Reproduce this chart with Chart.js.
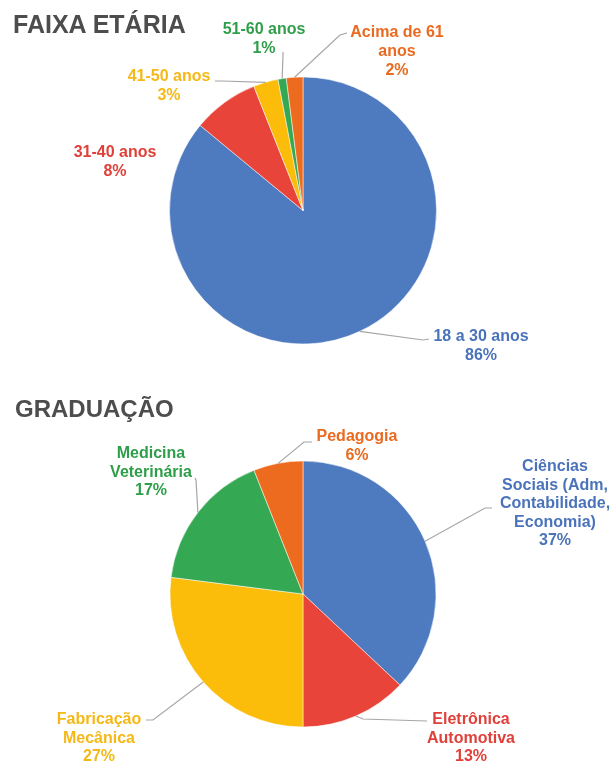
<!DOCTYPE html>
<html>
<head>
<meta charset="utf-8">
<script src="https://cdn.jsdelivr.net/npm/chart.js@4.4.1/dist/chart.umd.min.js"></script>
<style>
    html, body { margin: 0; padding: 0; background: #fff; width: 611px; height: 773px; overflow: hidden; }
    canvas { position: absolute; left: 0; }
    .title { position: absolute; left: 13px; font-family: "Liberation Sans", Arial, sans-serif; font-weight: bold; color: #4d4d4d; z-index: 2; }
</style>
</head>
<body>
<canvas id="idade" width="611" height="385" style="top:0"></canvas>
<canvas id="grad" width="611" height="388" style="top:385px"></canvas>
<div class="title" style="top:12px;font-size:25px;line-height:25px">FAIXA ETÁRIA</div>
<div class="title" style="top:397px;left:15px;font-size:24px;line-height:24px">GRADUAÇÃO</div>

<script>
// Faixa etária
var ageLabels = ['18 a 30 anos', '31-40 anos', '41-50 anos', '51-60 anos', 'Acima de 61 anos'];
var ageValues = [86, 8, 3, 1, 2];

// Graduação
var gradLabels = ['Ciências Sociais (Adm, Contabilidade, Economia)', 'Eletrônica Automotiva', 'Fabricação Mecânica', 'Medicina Veterinária', 'Pedagogia'];
var gradValues = [37, 13, 27, 17, 6];

var sliceColors = ['#4e7ac0', '#e8443a', '#fbbc0a', '#34a853', '#ed6b1f'];
var textColors = ['#4a73ba', '#e0403a', '#f5b816', '#2f9e4a', '#ea6a1f'];

// label boxes (page coords), line = elbow + anchor near the text
var ageLabelPos = [
    { text: ['18 a 30 anos'], x: 481, y: 337, elbow: [423, 340], anchor: [429, 339] },
    { text: ['31-40 anos'], x: 115, y: 153 },
    { text: ['41-50 anos'], x: 169, y: 77, elbow: [222, 81], anchor: [215, 81] },
    { text: ['51-60 anos'], x: 264, y: 30, elbow: [283, 56], anchor: [283, 52] },
    { text: ['Acima de 61', 'anos'], x: 397, y: 33, elbow: [340, 35], anchor: [347, 33] }
];
var gradLabelPos = [
    { text: ['Ciências', 'Sociais (Adm,', 'Contabilidade,', 'Economia)'], x: 555, y: 467, elbow: [485, 508], anchor: [492, 508] },
    { text: ['Eletrônica', 'Automotiva'], x: 471, y: 720, elbow: [363, 719], anchor: [427, 721] },
    { text: ['Fabricação', 'Mecânica'], x: 99, y: 720, elbow: [153, 720], anchor: [146, 720] },
    { text: ['Medicina', 'Veterinária'], x: 151, y: 454, elbow: [196, 480], anchor: [195, 478] },
    { text: ['Pedagogia'], x: 357, y: 437, elbow: [304, 442], anchor: [312, 442] }
];

var sliceLabels = {
    id: 'sliceLabels',
    afterDatasetsDraw: function(chart, args, opts) {
        var ctx = chart.ctx;
        var arcs = chart.getDatasetMeta(0).data;
        var values = chart.data.datasets[0].data;
        var total = values.reduce(function(a, b) { return a + b; }, 0);
        var off = opts.top || 0;
        ctx.save();
        ctx.font = 'bold 16px "Liberation Sans", Arial, sans-serif';
        ctx.textAlign = 'center';
        ctx.textBaseline = 'middle';
        opts.items.forEach(function(it, i) {
            var arc = arcs[i];
            if (it.anchor) {
                var mid = (arc.startAngle + arc.endAngle) / 2;
                var ex = arc.x + Math.cos(mid) * arc.outerRadius;
                var ey = arc.y + Math.sin(mid) * arc.outerRadius;
                ctx.strokeStyle = '#a6a6a6';
                ctx.lineWidth = 1.2;
                ctx.beginPath();
                ctx.moveTo(ex, ey);
                ctx.lineTo(it.elbow[0], it.elbow[1] - off);
                ctx.lineTo(it.anchor[0], it.anchor[1] - off);
                ctx.stroke();
            }
            var lines = it.text.concat([Math.round(values[i] / total * 100) + '%']);
            ctx.fillStyle = textColors[i];
            lines.forEach(function(t, k) {
                ctx.fillText(t, it.x, it.y - off + k * opts.lineHeight);
            });
        });
        ctx.restore();
    }
};

function makePie(id, labels, values, items, top, pad, radius, lineHeight) {
    return new Chart(document.getElementById(id), {
        type: 'pie',
        data: {
            labels: labels,
            datasets: [{ data: values, backgroundColor: sliceColors, borderColor: '#ffffff', borderWidth: 0.5, radius: radius }]
        },
        options: {
            responsive: false,
            animation: false,
            layout: { padding: pad },
            plugins: {
                legend: { display: false },
                tooltip: { enabled: false },
                sliceLabels: { items: items, top: top, lineHeight: lineHeight }
            }
        },
        plugins: [sliceLabels]
    });
}

makePie('idade', ageLabels, ageValues, ageLabelPos, 0,
    { left: 169.5, right: 174.5, top: 77, bottom: 41 }, 133.5, 19);
makePie('grad', gradLabels, gradValues, gradLabelPos, 385,
    { left: 170, right: 175, top: 76, bottom: 46 }, 133, 18.4);
</script>
</body>
</html>
